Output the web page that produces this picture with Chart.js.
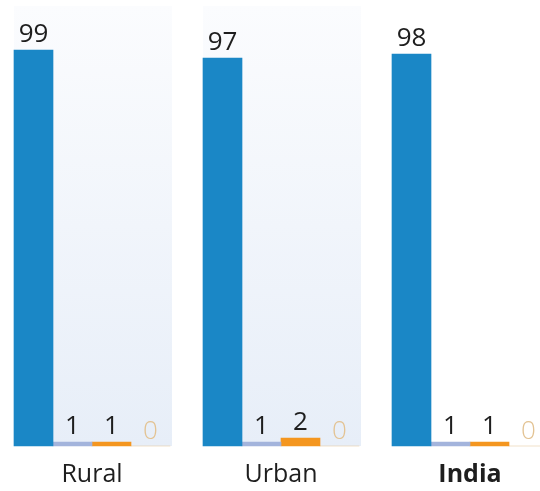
<!DOCTYPE html>
<html>
<head>
<meta charset="utf-8">
<script src="https://cdn.jsdelivr.net/npm/chart.js@4"></script>
<style>
  html, body { margin: 0; padding: 0; background: #fff; overflow: hidden; }
  #wrap { width: 540px; height: 491px; position: relative; }
</style>
</head>
<body>
<div id="wrap"><canvas id="myChart"></canvas></div>
<script>
// datos
const categorias = ['Rural', 'Urban', 'India'];
const serieA = [99, 97, 98];
const serieB = [1, 1, 1];
const serieC = [1, 2, 1];
const serieD = [0, 0, 0];

const colores = ['#1a87c6', '#a3b4dc', '#f4961f', '#e3c393'];
const ANCHO_BARRA = 39;

// paneles de fondo detras de Rural y Urban
const panelesPlugin = {
  id: 'paneles',
  beforeDatasetsDraw(chart) {
    const { ctx, scales: { x, y } } = chart;
    const top = 6;
    const bottom = y.getPixelForValue(0);
    [0, 1].forEach(i => {
      const c = x.getPixelForValue(i);
      const left = c - ANCHO_BARRA * 2;
      const right = c + ANCHO_BARRA * 2 + 2;
      const g = ctx.createLinearGradient(0, top, 0, bottom);
      g.addColorStop(0, '#fbfcfe');
      g.addColorStop(1, '#e7eef8');
      ctx.save();
      ctx.fillStyle = g;
      ctx.fillRect(left, top, right - left, bottom - top);
      ctx.restore();
    });
  }
};

// etiquetas de valor encima de cada barra
const valoresPlugin = {
  id: 'valores',
  afterDatasetsDraw(chart) {
    const { ctx } = chart;
    chart.data.datasets.forEach((ds, di) => {
      const meta = chart.getDatasetMeta(di);
      meta.data.forEach((bar, i) => {
        ctx.save();
        ctx.font = (di === 3 ? '300 ' : '') + '26px "Open Sans"';
        ctx.fillStyle = di === 3 ? colores[3] : '#1e1e1e';
        ctx.textAlign = 'center';
        ctx.textBaseline = 'alphabetic';
        const yy = di === 3 ? bar.y - 7 : bar.y - 8;
        ctx.fillText(ds.data[i], bar.x, yy);
        ctx.restore();
      });
    });
  }
};

const hacerSerie = (datos, color) => ({
  data: datos,
  backgroundColor: color,
  borderWidth: 0,
  barThickness: ANCHO_BARRA,
  clip: false
});

new Chart(document.getElementById('myChart'), {
  type: 'bar',
  data: {
    labels: categorias,
    datasets: [
      hacerSerie(serieA, colores[0]),
      hacerSerie(serieB, colores[1]),
      hacerSerie(serieC, colores[2]),
      hacerSerie(serieD, colores[3])
    ]
  },
  options: {
    responsive: true,
    maintainAspectRatio: false,
    animation: false,
    layout: { padding: { left: 92, right: 70, top: 6, bottom: 0 } },
    plugins: {
      legend: { display: false },
      tooltip: { enabled: false }
    },
    scales: {
      x: {
        offset: false,
        afterFit(scale) { scale.height = 45; },
        grid: { display: false, drawTicks: false },
        border: { display: false },
        ticks: {
          autoSkip: false,
          maxRotation: 0,
          padding: 14,
          color: '#1e1e1e',
          font: (c) => ({
            family: '"Open Sans"',
            size: 25,
            weight: c.index === 2 ? 'bold' : 'normal'
          })
        }
      },
      y: {
        display: false,
        min: 0,
        max: 110
      }
    }
  },
  plugins: [panelesPlugin, valoresPlugin]
});
</script>
</body>
</html>
